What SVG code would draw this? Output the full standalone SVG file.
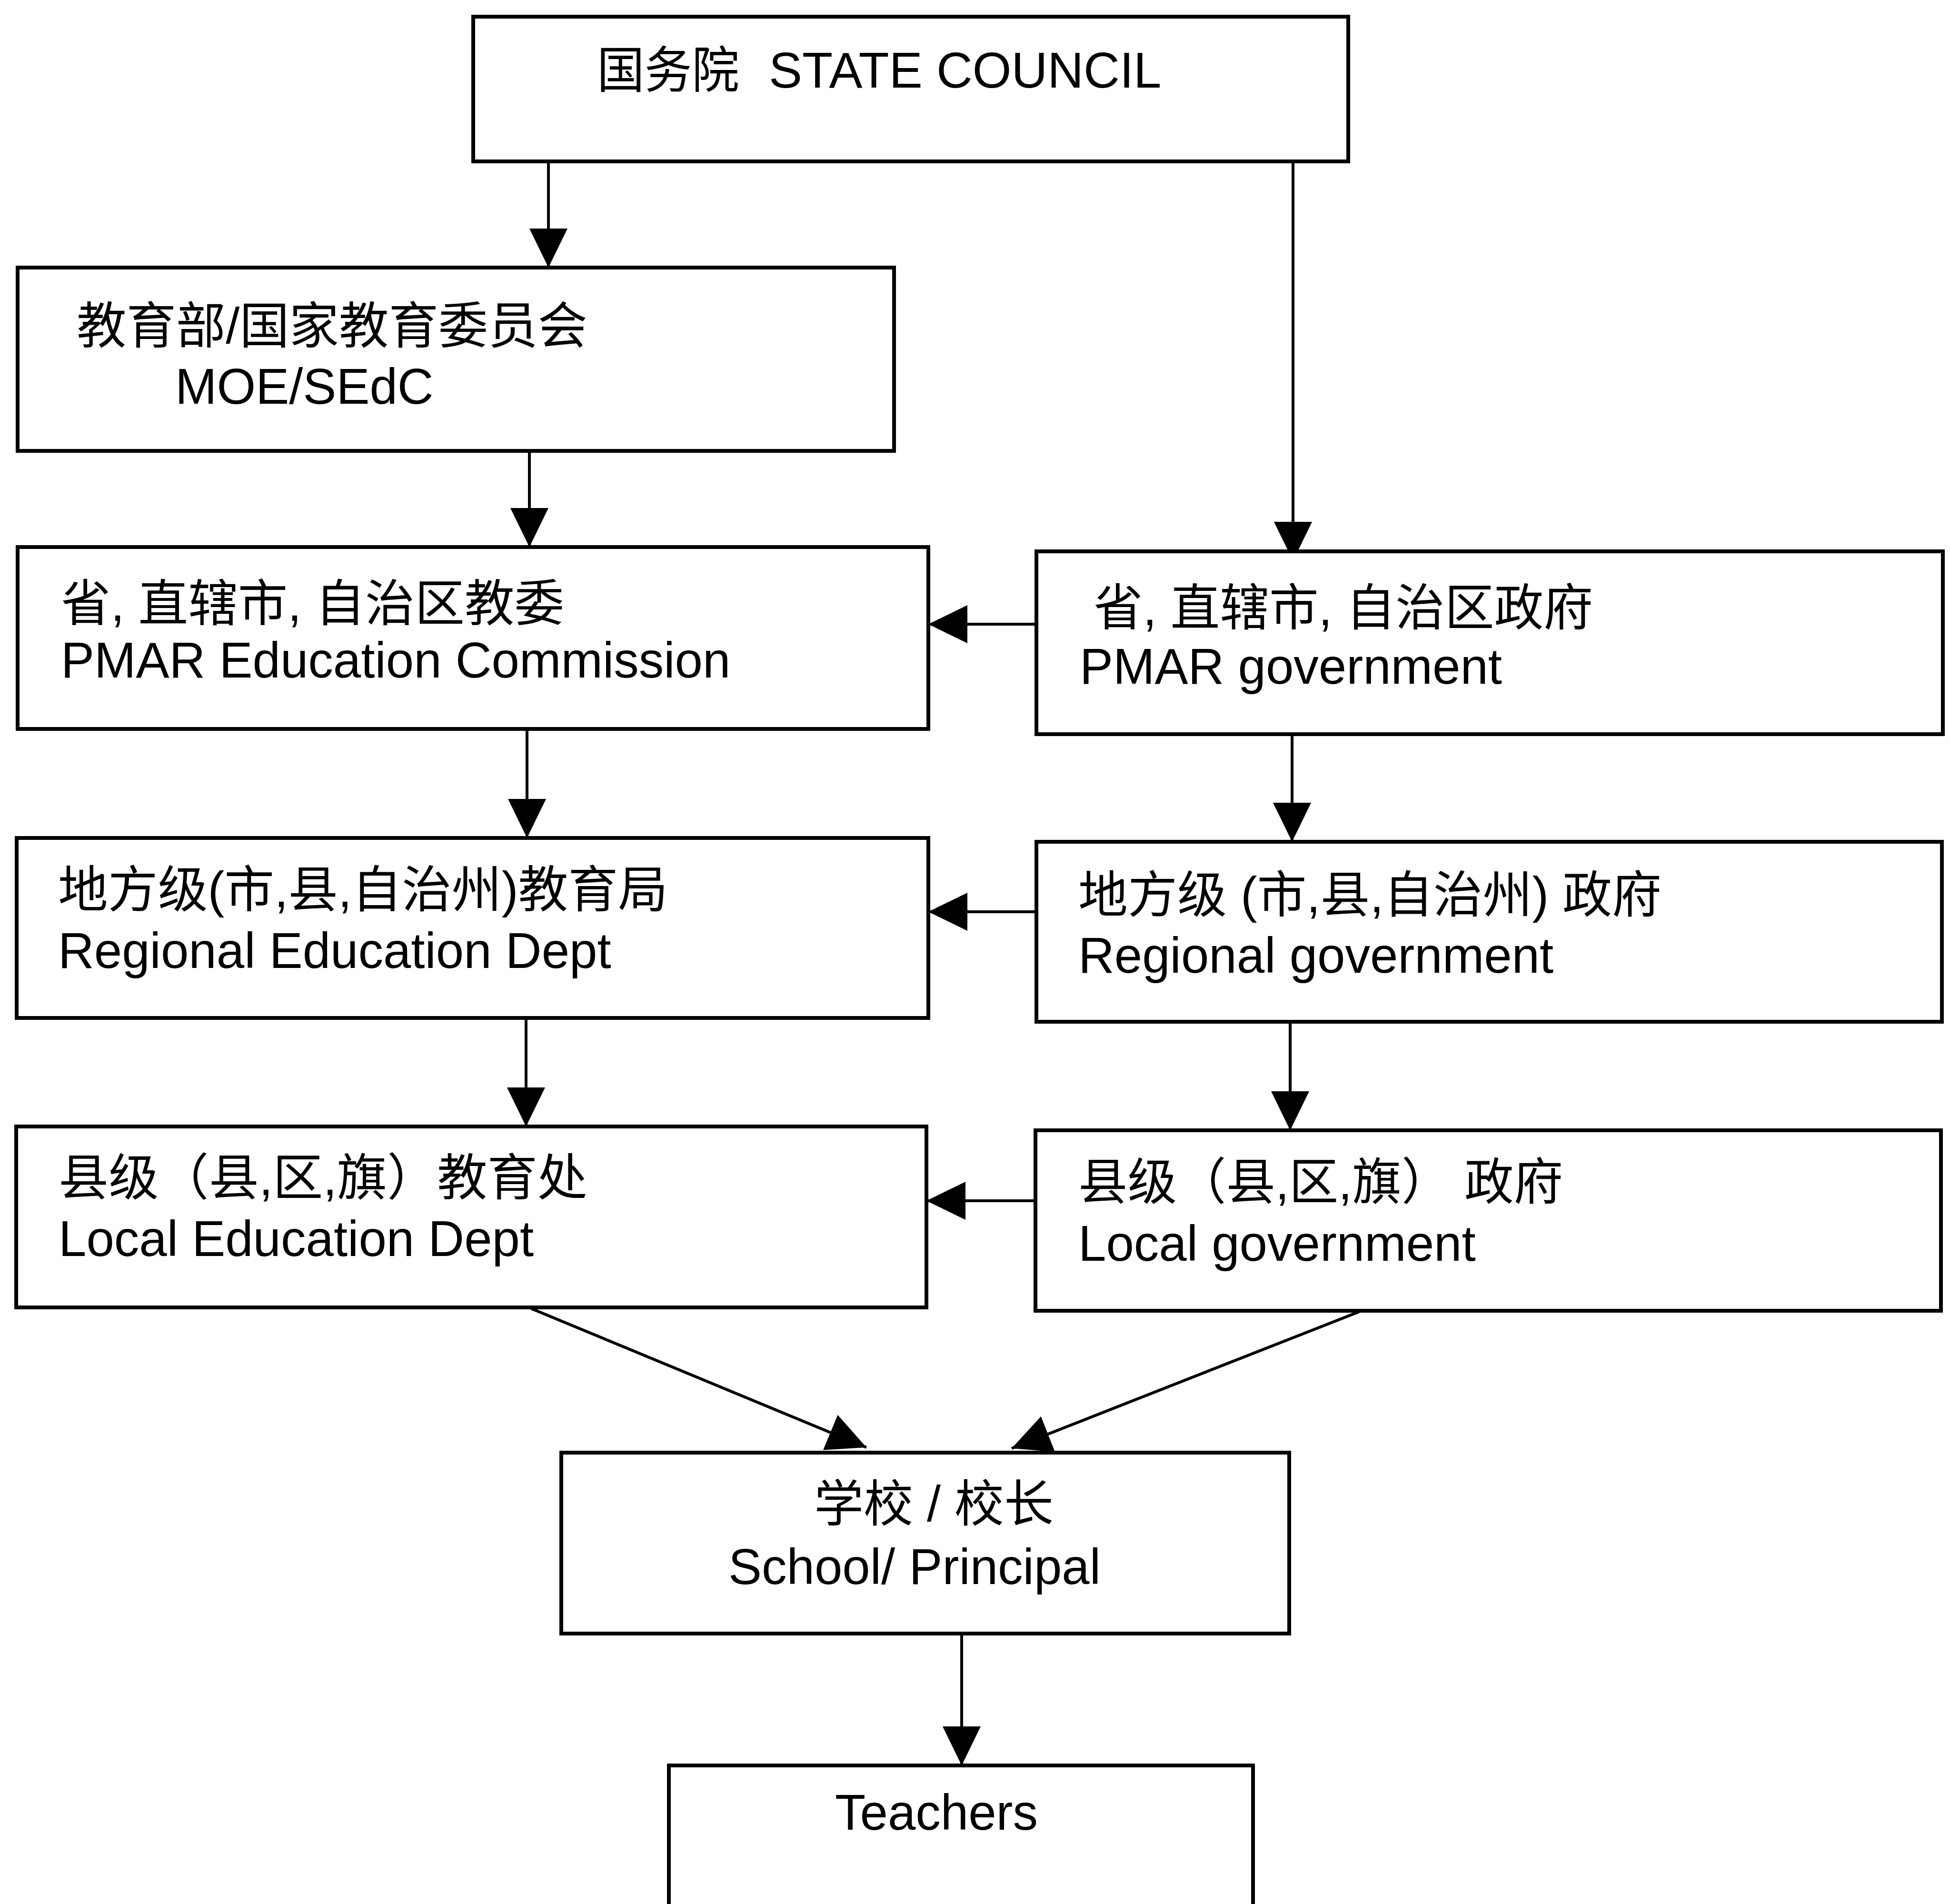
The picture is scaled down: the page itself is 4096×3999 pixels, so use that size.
<svg xmlns="http://www.w3.org/2000/svg" width="4096" height="3999" viewBox="0 0 4096 3999">
<style>
.box{fill:#fff;stroke:#000;stroke-width:8}
.t{font-family:"Liberation Sans","Noto Sans CJK SC",Arial,sans-serif;font-size:105px;fill:#000}
.c{stroke:#000;stroke-width:6;fill:none}
</style>
<defs>
<marker id="ah" markerUnits="userSpaceOnUse" markerWidth="84" markerHeight="80" refX="82" refY="40" orient="auto" viewBox="0 0 84 80">
<path d="M0,0 L82,40 L0,80 Z" fill="#000"/>
</marker>
</defs>
<rect width="4096" height="3999" fill="#fff"/>
<g id="connectors">
<line class="c" x1="1152" y1="339" x2="1152" y2="562" marker-end="url(#ah)"/>
<line class="c" x1="2716" y1="339" x2="2716" y2="1178" marker-end="url(#ah)"/>
<line class="c" x1="1112" y1="925" x2="1112" y2="1149" marker-end="url(#ah)"/>
<line class="c" x1="1107" y1="1531" x2="1107" y2="1760" marker-end="url(#ah)"/>
<line class="c" x1="2714" y1="1542" x2="2714" y2="1768" marker-end="url(#ah)"/>
<line class="c" x1="1105" y1="2138" x2="1105" y2="2366" marker-end="url(#ah)"/>
<line class="c" x1="2710" y1="2146" x2="2710" y2="2374" marker-end="url(#ah)"/>
<line class="c" x1="2177" y1="1311" x2="1950" y2="1311" marker-end="url(#ah)"/>
<line class="c" x1="2177" y1="1915" x2="1950" y2="1915" marker-end="url(#ah)"/>
<line class="c" x1="2175" y1="2522" x2="1946" y2="2522" marker-end="url(#ah)"/>
<line class="c" x1="1115" y1="2748" x2="1820" y2="3040" marker-end="url(#ah)"/>
<line class="c" x1="2855" y1="2755" x2="2125" y2="3042" marker-end="url(#ah)"/>
<line class="c" x1="2020" y1="3431" x2="2020" y2="3708" marker-end="url(#ah)"/>
</g>
<g id="state-council">
<rect class="box" x="994" y="35" width="1838" height="304"/>
<text class="t" x="1254" y="184" textLength="299" lengthAdjust="spacingAndGlyphs">国务院</text>
<text class="t" x="1615" y="184">STATE COUNCIL</text>
</g>
<g id="moe">
<rect class="box" x="37" y="562" width="1841" height="385"/>
<text class="t" x="161" y="721" textLength="1073" lengthAdjust="spacingAndGlyphs">教育部/国家教育委员会</text>
<text class="t" x="368" y="848">MOE/SEdC</text>
</g>
<g id="pmar-edu">
<rect class="box" x="37" y="1149" width="1913" height="382"/>
<text class="t" x="128" y="1304" textLength="1057" lengthAdjust="spacingAndGlyphs">省, 直辖市, 自治区教委</text>
<text class="t" x="128" y="1423">PMAR Education Commission</text>
</g>
<g id="pmar-gov">
<rect class="box" x="2177" y="1158" width="1904" height="384"/>
<text class="t" x="2297" y="1313" textLength="1049" lengthAdjust="spacingAndGlyphs">省, 直辖市, 自治区政府</text>
<text class="t" x="2268" y="1436">PMAR government</text>
</g>
<g id="regional-edu">
<rect class="box" x="35" y="1760" width="1915" height="378"/>
<text class="t" x="122" y="1905" textLength="1281" lengthAdjust="spacingAndGlyphs">地方级(市,县,自治州)教育局</text>
<text class="t" x="122" y="2033">Regional Education Dept</text>
</g>
<g id="regional-gov">
<rect class="box" x="2177" y="1768" width="1902" height="378"/>
<text class="t" x="2265" y="1916" textLength="1225" lengthAdjust="spacingAndGlyphs">地方级 (市,县,自治州) 政府</text>
<text class="t" x="2265" y="2043">Regional government</text>
</g>
<g id="local-edu">
<rect class="box" x="34" y="2366" width="1912" height="380"/>
<text class="t" x="123" y="2510" textLength="1111" lengthAdjust="spacingAndGlyphs">县级（县,区,旗）教育处</text>
<text class="t" x="123" y="2638">Local Education Dept</text>
</g>
<g id="local-gov">
<rect class="box" x="2175" y="2374" width="1902" height="379"/>
<text class="t" x="2265" y="2519" textLength="1018" lengthAdjust="spacingAndGlyphs">县级（县,区,旗） 政府</text>
<text class="t" x="2265" y="2648">Local government</text>
</g>
<g id="school">
<rect class="box" x="1179" y="3051" width="1529" height="380"/>
<text class="t" x="1710" y="3195" textLength="503" lengthAdjust="spacingAndGlyphs">学校 / 校长</text>
<text class="t" x="1530" y="3327">School/ Principal</text>
</g>
<g id="teachers">
<rect class="box" x="1405" y="3708" width="1227" height="400"/>
<text class="t" x="1754" y="3843">Teachers</text>
</g>
</svg>
